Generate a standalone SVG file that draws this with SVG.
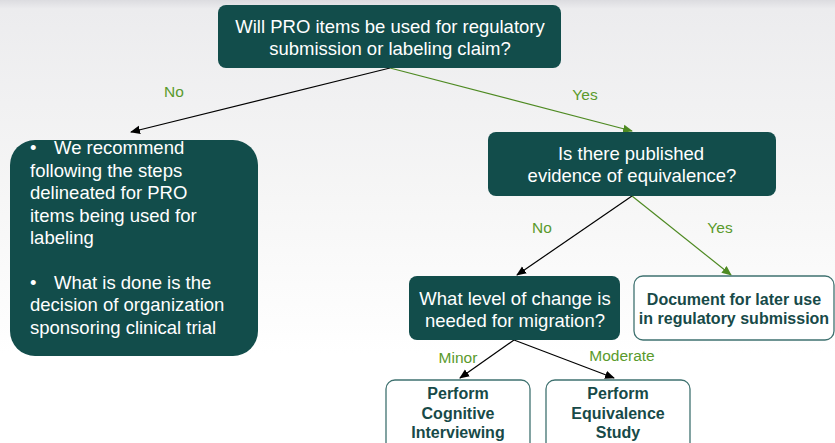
<svg xmlns="http://www.w3.org/2000/svg" width="835" height="443" viewBox="0 0 835 443">
  <defs>
    <linearGradient id="bg" x1="0" y1="0" x2="0" y2="1">
      <stop offset="0" stop-color="#dcdce0"/>
      <stop offset="0.02" stop-color="#ececee"/>
      <stop offset="0.45" stop-color="#f6f6f6"/>
      <stop offset="0.8" stop-color="#ffffff"/>
    </linearGradient>
    <marker id="ah-black" markerWidth="10" markerHeight="10" refX="9" refY="5" orient="auto" markerUnits="userSpaceOnUse">
      <path d="M0,0.8 L10,5 L0,9.2 Z" fill="#000"/>
    </marker>
    <marker id="ah-green" markerWidth="10" markerHeight="10" refX="9" refY="5" orient="auto" markerUnits="userSpaceOnUse">
      <path d="M0,0.8 L10,5 L0,9.2 Z" fill="#4e8a22"/>
    </marker>
    <style>
      .q { fill: #124d4b; }
      .qt { fill: #ffffff; font-family: "Liberation Sans", Arial, sans-serif; font-size: 18.5px; text-anchor: middle; }
      .lt { fill: #ffffff; font-family: "Liberation Sans", Arial, sans-serif; font-size: 18.5px; }
      .act { fill: #ffffff; stroke: #3f7270; stroke-width: 1.3; }
      .at { fill: #174a48; font-family: "Liberation Sans", Arial, sans-serif; font-size: 16px; font-weight: bold; text-anchor: middle; }
      .lbl { fill: #5a9a2c; font-family: "Liberation Sans", Arial, sans-serif; font-size: 15.5px; text-anchor: middle; }
      .cb { stroke: #000; stroke-width: 1.2; fill: none; marker-end: url(#ah-black); }
      .cg { stroke: #4e8a22; stroke-width: 1.2; fill: none; marker-end: url(#ah-green); }
    </style>
  </defs>

  <rect x="0" y="0" width="835" height="443" fill="url(#bg)"/>

  <!-- connectors -->
  <g id="connectors">
    <line class="cb" x1="390" y1="68" x2="131" y2="132"/>
    <line class="cg" x1="390" y1="68" x2="632" y2="131"/>
    <line class="cb" x1="632" y1="196" x2="517" y2="275"/>
    <line class="cg" x1="632" y1="196" x2="731" y2="275"/>
    <line class="cb" x1="514" y1="340" x2="460" y2="378"/>
    <line class="cb" x1="514" y1="340" x2="614" y2="378"/>
    <text class="lbl" x="174" y="97">No</text>
    <text class="lbl" x="585" y="100">Yes</text>
    <text class="lbl" x="542" y="233">No</text>
    <text class="lbl" x="720" y="233">Yes</text>
    <text class="lbl" x="458" y="363">Minor</text>
    <text class="lbl" x="622" y="361">Moderate</text>
  </g>

  <g id="node-regulatory">
    <rect class="q" x="218" y="5" width="343" height="63" rx="8"/>
    <text class="qt" x="390" y="33">Will PRO items be used for regulatory</text>
    <text class="qt" x="390" y="55">submission or labeling claim?</text>
  </g>

  <g id="node-recommend">
    <rect class="q" x="10" y="140" width="248" height="216" rx="25"/>
    <text class="lt" x="30" y="154">•<tspan x="54">We recommend</tspan></text>
    <text class="lt" x="30" y="177">following the steps</text>
    <text class="lt" x="30" y="199">delineated for PRO</text>
    <text class="lt" x="30" y="222">items being used for</text>
    <text class="lt" x="30" y="244">labeling</text>
    <text class="lt" x="30" y="289">•<tspan x="54">What is done is the</tspan></text>
    <text class="lt" x="30" y="311">decision of organization</text>
    <text class="lt" x="30" y="334">sponsoring clinical trial</text>
  </g>

  <g id="node-evidence">
    <rect class="q" x="488" y="132" width="288" height="64" rx="8"/>
    <text class="qt" x="631" y="160">Is there published</text>
    <text class="qt" x="632" y="182">evidence of equivalence?</text>
  </g>

  <g id="node-level">
    <rect class="q" x="409" y="276" width="211" height="64" rx="8"/>
    <text class="qt" x="515" y="305">What level of change is</text>
    <text class="qt" x="515" y="327">needed for migration?</text>
  </g>

  <g id="node-document">
    <rect class="act" x="634" y="276" width="200" height="64" rx="9"/>
    <text class="at" x="734" y="305">Document for later use</text>
    <text class="at" x="734" y="324">in regulatory submission</text>
  </g>

  <g id="node-cognitive">
    <rect class="act" x="386" y="380" width="144" height="72" rx="9"/>
    <text class="at" x="458" y="399">Perform</text>
    <text class="at" x="458" y="419">Cognitive</text>
    <text class="at" x="458" y="438">Interviewing</text>
  </g>

  <g id="node-equivalence">
    <rect class="act" x="546" y="380" width="144" height="72" rx="9"/>
    <text class="at" x="618" y="399">Perform</text>
    <text class="at" x="618" y="419">Equivalence</text>
    <text class="at" x="618" y="438">Study</text>
  </g>
</svg>
